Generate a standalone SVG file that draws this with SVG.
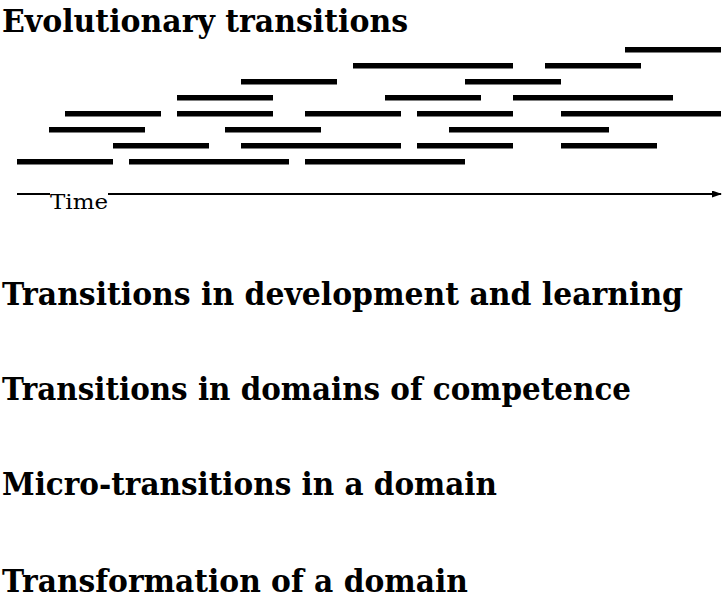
<svg xmlns="http://www.w3.org/2000/svg" width="725" height="603" viewBox="0 0 725 603">
<style>
.h{font-family:"DejaVu Serif","Liberation Serif",serif;font-weight:bold;font-size:31px;fill:#000}
.t{font-family:"DejaVu Serif","Liberation Serif",serif;font-size:21px;fill:#000}
.b{fill:#000}
.ax{stroke:#000;stroke-width:1.8;fill:none}
</style>
<defs>
<marker id="arr" markerWidth="10" markerHeight="8" refX="9" refY="3.5" orient="auto" markerUnits="userSpaceOnUse">
<path d="M0,0 L10,3.5 L0,7 Z" fill="#000"/>
</marker>
</defs>
<rect width="725" height="603" fill="#fff"/>
<g id="title"><text class="h" x="2" y="32" textLength="406" lengthAdjust="spacingAndGlyphs">Evolutionary transitions</text></g>
<g id="bars">
<rect class="b" x="625" y="47" width="96" height="5.5"/>
<rect class="b" x="353" y="63" width="160" height="5.5"/>
<rect class="b" x="545" y="63" width="96" height="5.5"/>
<rect class="b" x="241" y="79" width="96" height="5.5"/>
<rect class="b" x="465" y="79" width="96" height="5.5"/>
<rect class="b" x="177" y="95" width="96" height="5.5"/>
<rect class="b" x="385" y="95" width="96" height="5.5"/>
<rect class="b" x="513" y="95" width="160" height="5.5"/>
<rect class="b" x="65" y="111" width="96" height="5.5"/>
<rect class="b" x="177" y="111" width="96" height="5.5"/>
<rect class="b" x="305" y="111" width="96" height="5.5"/>
<rect class="b" x="417" y="111" width="96" height="5.5"/>
<rect class="b" x="561" y="111" width="160" height="5.5"/>
<rect class="b" x="49" y="127" width="96" height="5.5"/>
<rect class="b" x="225" y="127" width="96" height="5.5"/>
<rect class="b" x="449" y="127" width="160" height="5.5"/>
<rect class="b" x="113" y="143" width="96" height="5.5"/>
<rect class="b" x="241" y="143" width="160" height="5.5"/>
<rect class="b" x="417" y="143" width="96" height="5.5"/>
<rect class="b" x="561" y="143" width="96" height="5.5"/>
<rect class="b" x="17" y="159" width="96" height="5.5"/>
<rect class="b" x="129" y="159" width="160" height="5.5"/>
<rect class="b" x="305" y="159" width="160" height="5.5"/>
</g>
<g id="axis">
<line class="ax" x1="17" y1="194" x2="50" y2="194"/>
<line class="ax" x1="108" y1="194" x2="721" y2="194" marker-end="url(#arr)"/>
<text class="t" x="50" y="209" textLength="58" lengthAdjust="spacingAndGlyphs">Time</text>
</g>
<g id="label1"><text class="h" x="2" y="305" textLength="681" lengthAdjust="spacingAndGlyphs">Transitions in development and learning</text></g>
<g id="label2"><text class="h" x="2" y="400" textLength="629" lengthAdjust="spacingAndGlyphs">Transitions in domains of competence</text></g>
<g id="label3"><text class="h" x="2" y="495" textLength="495" lengthAdjust="spacingAndGlyphs">Micro-transitions in a domain</text></g>
<g id="label4"><text class="h" x="2" y="592" textLength="466" lengthAdjust="spacingAndGlyphs">Transformation of a domain</text></g>
</svg>
